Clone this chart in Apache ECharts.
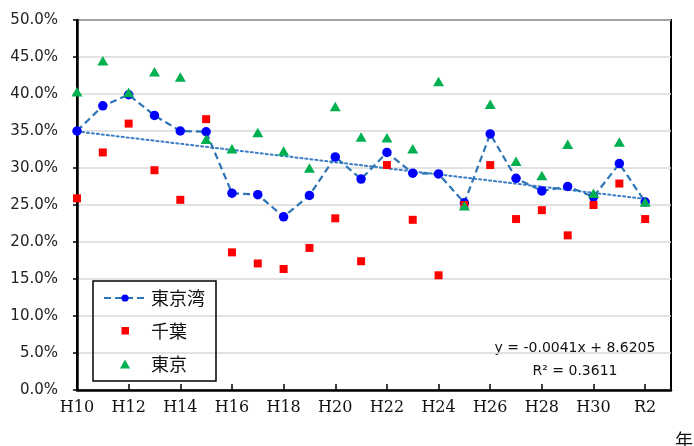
<!DOCTYPE html>
<html>
<head>
<meta charset="utf-8">
<script src="https://cdn.jsdelivr.net/npm/echarts@6/dist/echarts.min.js"></script>
<style>
  html, body { margin: 0; padding: 0; background: #fff; }
  #chart { width: 694px; height: 446px; }
</style>
</head>
<body>
<div id="chart"></div>
<script>
// Survey years (Heisei / Reiwa)
const years = ['H10','H11','H12','H13','H14','H15','H16','H17','H18','H19','H20',
               'H21','H22','H23','H24','H25','H26','H27','H28','H29','H30','R1','R2'];

// Rates in percent
const tokyoBay = [35.0, 38.4, 39.9, 37.1, 35.0, 34.9, 26.6, 26.4, 23.4, 26.3, 31.5,
                  28.5, 32.1, 29.3, 29.2, 25.3, 34.6, 28.6, 26.9, 27.5, 26.1, 30.6, 25.4];
const chiba    = [25.9, 32.1, 36.0, 29.7, 25.7, 36.6, 18.6, 17.1, 16.35, 19.2, 23.2,
                  17.4, 30.4, 23.0, 15.5, 25.0, 30.4, 23.1, 24.3, 20.9, 25.0, 27.9, 23.1];
const tokyo    = [40.3, 44.5, 40.2, 43.0, 42.3, 33.9, 32.6, 34.8, 32.3, 30.0, 38.3,
                  34.2, 34.1, 32.6, 41.7, 24.9, 38.6, 30.9, 29.0, 33.2, 26.6, 33.5, 25.4];

const yTicks = { min: 0, max: 50, interval: 5 };
const trendLabel = 'y = -0.0041x + 8.6205\nR\u00B2 = 0.3611';

// Least-squares linear trend of the Tokyo Bay series
function linearTrend(values) {
  const n = values.length;
  let sx = 0, sy = 0, sxx = 0, sxy = 0;
  values.forEach((v, i) => { sx += i; sy += v; sxx += i * i; sxy += i * v; });
  const b = (n * sxy - sx * sy) / (n * sxx - sx * sx);
  const a = (sy - b * sx) / n;
  return values.map((_, i) => +(a + b * i).toFixed(3));
}

// One empty slot after the last year leaves room at the right edge of the plot
const axisCategories = years.concat(['']);

// Legend icons for the marker-only series: the leading moves span the whole
// 42x9 icon box so the small marker keeps its size in the middle of it
const squareIcon = 'path://M0,0M42,9M17.5,0.5h7.5v7.5h-7.5z';
const triangleIcon = 'path://M0,0M42,9M21,0L26,9L16,9z';

const chart = echarts.init(document.getElementById('chart'), null, { renderer: 'canvas' });
chart.setOption({
  animation: false,
  backgroundColor: '#fff',
  grid: {
    left: 77, right: 23, top: 20, bottom: 56,
    show: true, borderColor: '#000', borderWidth: 2, backgroundColor: 'transparent'
  },
  legend: {
    orient: 'vertical',
    left: 93, top: 281,
    padding: [8, 11, 8, 10],
    borderColor: '#000', borderWidth: 1.5,
    itemWidth: 42, itemHeight: 9, itemGap: 15,
    textStyle: { fontFamily: '"Noto Sans CJK JP"', fontSize: 18, color: '#111' },
    data: [
      { name: '東京湾' },
      { name: '千葉', icon: squareIcon },
      { name: '東京', icon: triangleIcon }
    ]
  },
  xAxis: {
    type: 'category',
    data: axisCategories,
    boundaryGap: false,
    axisLine: { lineStyle: { color: '#000', width: 2.5 } },
    axisTick: { inside: true, length: 6, interval: 1, lineStyle: { color: '#000', width: 1.5 } },
    axisLabel: { interval: 1, margin: 10, fontFamily: '"DejaVu Serif"', fontSize: 16, color: '#111' },
    splitLine: { show: false }
  },
  yAxis: {
    type: 'value',
    min: yTicks.min, max: yTicks.max, interval: yTicks.interval,
    axisLine: { show: true, lineStyle: { color: '#000', width: 2.5 } },
    axisTick: { show: true, length: 4, lineStyle: { color: '#000', width: 1.5 } },
    axisLabel: {
      margin: 19, fontFamily: '"DejaVu Sans"', fontSize: 15, color: '#222',
      formatter: v => v.toFixed(1) + '%'
    },
    splitLine: { lineStyle: { color: '#D9D9D9', width: 1.5 } }
  },
  series: [
    {
      name: 'trend',
      type: 'line',
      data: linearTrend(tokyoBay),
      symbol: 'none',
      lineStyle: { color: '#3A7DC4', width: 2, type: [2, 3], cap: 'round' },
      z: 1,
      silent: true
    },
    {
      name: '東京湾',
      type: 'line',
      data: tokyoBay,
      symbol: 'circle',
      symbolSize: 9.5,
      itemStyle: { color: '#0000FF', opacity: 1 },
      lineStyle: { color: '#2E75B6', width: 2.2, type: [7, 4] },
      z: 2
    },
    {
      name: '千葉',
      type: 'scatter',
      data: chiba,
      symbol: 'rect',
      symbolSize: 8,
      itemStyle: { color: '#FF0000', opacity: 1 },
      z: 3
    },
    {
      name: '東京',
      type: 'scatter',
      data: tokyo,
      symbol: 'triangle',
      symbolSize: [11, 9.5],
      itemStyle: { color: '#00B050', opacity: 1 },
      z: 4
    }
  ],
  graphic: [
    {
      type: 'text',
      x: 575, y: 337,
      style: {
        text: trendLabel,
        fontFamily: '"DejaVu Sans"', fontSize: 14, lineHeight: 23,
        fill: '#111', align: 'center', verticalAlign: 'top'
      }
    },
    {
      type: 'text',
      left: 675, top: 431,
      style: { text: '年', fontFamily: '"Noto Sans CJK JP"', fontSize: 18, fill: '#111' }
    }
  ]
});
</script>
</body>
</html>
